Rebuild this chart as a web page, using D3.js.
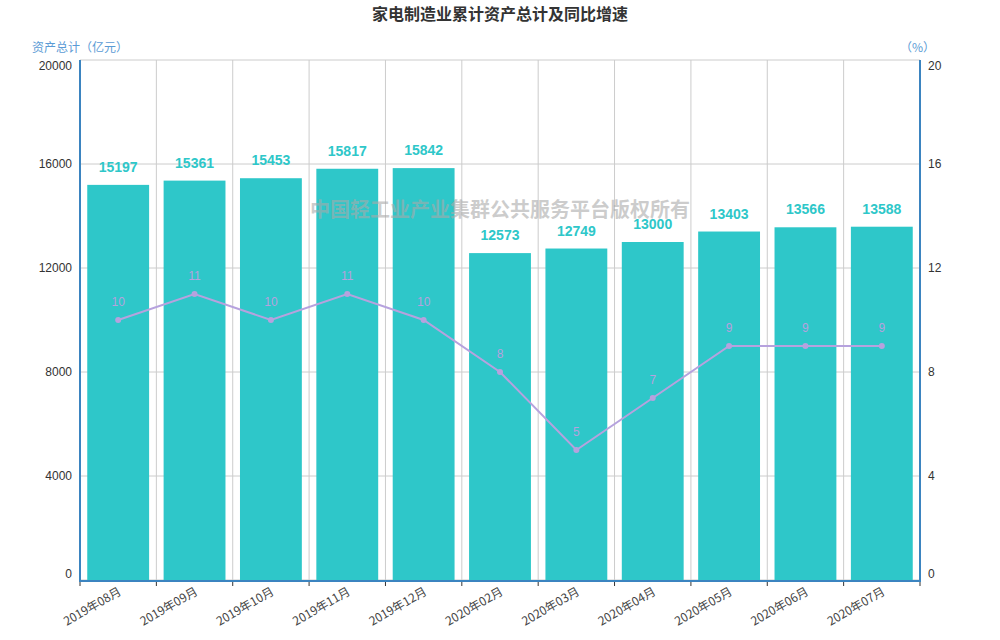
<!DOCTYPE html>
<html><head><meta charset="utf-8">
<script src="https://cdn.jsdelivr.net/npm/d3@7/dist/d3.min.js"></script>
<style>body{margin:0;background:#fff;font-family:"Noto Sans CJK SC","DejaVu Sans",sans-serif;}</style>
</head><body><svg id="c" width="1000" height="640"></svg>
<script>
const categories = ["2019年08月","2019年09月","2019年10月","2019年11月","2019年12月","2020年02月","2020年03月","2020年04月","2020年05月","2020年06月","2020年07月"];
const assets = [15197,15361,15453,15817,15842,12573,12749,13000,13403,13566,13588];
const growth = [10,11,10,11,10,8,5,7,9,9,9];
const leftTicks = [0,4000,8000,12000,16000,20000];
const rightTicks = [0,4,8,12,16,20];

const svg = d3.select("#c");
const L=80,R=920,T=60,B=580;
const font='"Noto Sans CJK SC","Liberation Sans",sans-serif';
const x = d3.scaleBand().domain(categories).range([L,R]).paddingInner(0.19).paddingOuter(0.095);
const xb = d3.scaleBand().domain(categories).range([L,R]);
const y = d3.scaleLinear().domain([0,20000]).range([B,T]);
const y2 = d3.scaleLinear().domain([0,20]).range([B,T]);

// grid
const g = svg.append("g");
g.selectAll("line.h").data(leftTicks).join("line")
  .attr("x1",L).attr("x2",R).attr("y1",d=>y(d)).attr("y2",d=>y(d))
  .attr("stroke","#ccc").attr("stroke-width",1);
const bounds = categories.map(c=>xb(c)).concat([R]);
g.selectAll("line.v").data(bounds).join("line")
  .attr("x1",d=>d).attr("x2",d=>d).attr("y1",T).attr("y2",B)
  .attr("stroke","#ccc").attr("stroke-width",1);

// bars
svg.append("g").selectAll("rect").data(assets).join("rect")
  .attr("x",(d,i)=>x(categories[i])).attr("width",x.bandwidth())
  .attr("y",d=>y(d)).attr("height",d=>B-y(d)).attr("fill","#2ec7c9");
svg.append("g").selectAll("text").data(assets).join("text")
  .attr("x",(d,i)=>x(categories[i])+x.bandwidth()/2).attr("y",d=>y(d)-13)
  .attr("text-anchor","middle").attr("font-family",'"Liberation Sans",Arial,sans-serif')
  .attr("font-weight","bold").attr("font-size",14).attr("fill","#2ec7c9").text(d=>d);

// line
const cx = (i)=>xb(categories[i])+xb.bandwidth()/2;
svg.append("path").datum(growth)
  .attr("d",d3.line().x((d,i)=>cx(i)).y(d=>y2(d)))
  .attr("fill","none").attr("stroke","#b6a2de").attr("stroke-width",2);
svg.append("g").selectAll("circle").data(growth).join("circle")
  .attr("cx",(d,i)=>cx(i)).attr("cy",d=>y2(d)).attr("r",3).attr("fill","#b6a2de");
svg.append("g").selectAll("text").data(growth).join("text")
  .attr("x",(d,i)=>cx(i)).attr("y",d=>y2(d)-14)
  .attr("text-anchor","middle").attr("font-family",'"Liberation Sans",Arial,sans-serif')
  .attr("font-size",12).attr("fill","#b6a2de").text(d=>d);

// watermark (drawn over bars)
svg.append("text").attr("x",500).attr("y",217).attr("text-anchor","middle")
  .attr("font-family",font).attr("font-weight","bold").attr("font-size",20)
  .attr("fill","#aaa").attr("fill-opacity",0.6).text("中国轻工业产业集群公共服务平台版权所有");

// axes
const axCol="#3b84c0";
const ax = svg.append("g").attr("font-family",'"Liberation Sans",Arial,sans-serif').attr("font-size",12).attr("fill","#333");
ax.selectAll("text.l").data(leftTicks).join("text")
  .attr("x",L-8).attr("y",d=>d===20000?y(d)+6:(d===0?y(d)-6:y(d)))
  .attr("dy","0.35em").attr("text-anchor","end").text(d=>d);
ax.selectAll("text.r").data(rightTicks).join("text")
  .attr("x",R+8).attr("y",d=>d===20?y2(d)+6:(d===0?y2(d)-6:y2(d)))
  .attr("dy","0.35em").attr("text-anchor","start").text(d=>d);
// x ticks
svg.append("g").selectAll("line").data(bounds).join("line")
  .attr("x1",d=>d).attr("x2",d=>d).attr("y1",B).attr("y2",B+6)
  .attr("stroke","#333").attr("stroke-width",1);
svg.append("g").selectAll("text").data(categories).join("text")
  .attr("transform",d=>`translate(${xb(d)+xb.bandwidth()/2+4},${B+14}) rotate(-30)`)
  .attr("text-anchor","end").attr("font-family",font).attr("font-size",12).attr("fill","#444").text(d=>d);
svg.append("line").attr("x1",L).attr("x2",R).attr("y1",B+1).attr("y2",B+1).attr("stroke",axCol).attr("stroke-width",2);
svg.append("line").attr("x1",L).attr("x2",L).attr("y1",T).attr("y2",B+2).attr("stroke",axCol).attr("stroke-width",2);
svg.append("line").attr("x1",R).attr("x2",R).attr("y1",T).attr("y2",B+2).attr("stroke",axCol).attr("stroke-width",2);

// axis names
svg.append("text").attr("x",32).attr("y",52).attr("font-family",font).attr("font-size",12).attr("fill","#5b9bd5").text("资产总计（亿元）");
svg.append("text").attr("x",935).attr("y",52).attr("text-anchor","end").attr("font-family",font).attr("font-size",12).attr("fill","#5b9bd5").text("（%）");

// title
svg.append("text").attr("x",500).attr("y",20).attr("text-anchor","middle")
  .attr("font-family",font).attr("font-weight","bold").attr("font-size",16).attr("fill","#333").text("家电制造业累计资产总计及同比增速");
</script></body></html>
